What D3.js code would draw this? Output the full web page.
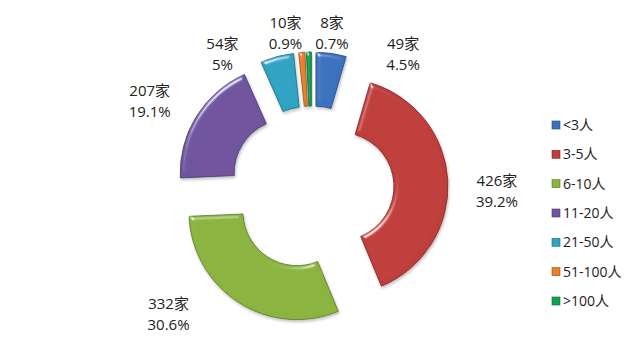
<!DOCTYPE html>
<html>
<head>
<meta charset="utf-8">
<script src="https://cdn.jsdelivr.net/npm/d3@7"></script>
<style>
  html, body { margin: 0; padding: 0; background: #fff; }
  svg { display: block; }
  text { font-family: "Open Sans", "Noto Sans CJK SC", sans-serif; fill: #222; }
</style>
</head>
<body>
<div id="chart"></div>
<script>
//          Chart data
var categories = ["<3人", "3-5人", "6-10人", "11-20人", "21-50人", "51-100人", ">100人"];
var counts = [49, 426, 332, 207, 54, 10, 8];
var percents = ["4.5%", "39.2%", "30.6%", "19.1%", "5%", "0.9%", "0.7%"];
var colors = ["#3a72bd", "#bf3d3a", "#8ab43e", "#70549e", "#2ea3c2", "#e8802a", "#12a052"];

//          Chart settings
var width = 642, height = 353;
var cx = 312, cy = 188;
var innerR = 54, outerR = 108;
var explode = 28;
// label placement, Excel-like: turn from slice middle (deg) and distance from centre
var labelTurn = [26.1, 4.1, 16.2, -3.7, -18.9, -5.4, 8.7];
var labelDist = [162, 185, 191, 184, 161, 157, 156];

var svg = d3.select("#chart").append("svg")
    .attr("width", width)
    .attr("height", height);

//          Bevel filter
var defs = svg.append("defs");
var bevel = defs.append("filter").attr("id", "bevel")
    .attr("x", "-20%").attr("y", "-20%").attr("width", "140%").attr("height", "140%");
bevel.append("feGaussianBlur").attr("in", "SourceAlpha").attr("stdDeviation", 2).attr("result", "blur");
bevel.append("feSpecularLighting").attr("in", "blur").attr("surfaceScale", 3)
    .attr("specularConstant", 0.7).attr("specularExponent", 40)
    .attr("lighting-color", "#ffffff").attr("result", "spec")
    .append("feDistantLight").attr("azimuth", 235).attr("elevation", 35);
bevel.append("feComposite").attr("in", "spec").attr("in2", "SourceAlpha")
    .attr("operator", "in").attr("result", "specIn");
bevel.append("feComposite").attr("in", "SourceGraphic").attr("in2", "specIn")
    .attr("operator", "arithmetic").attr("k1", 0).attr("k2", 1).attr("k3", 1).attr("k4", 0)
    .attr("result", "lit");
bevel.append("feGaussianBlur").attr("in", "SourceAlpha").attr("stdDeviation", 1.5).attr("result", "sh");
bevel.append("feOffset").attr("in", "sh").attr("dx", 1).attr("dy", 2).attr("result", "shOff");
bevel.append("feComponentTransfer").attr("in", "shOff").attr("result", "shFade")
    .append("feFuncA").attr("type", "linear").attr("slope", 0.25);
var merge = bevel.append("feMerge");
merge.append("feMergeNode").attr("in", "shFade");
merge.append("feMergeNode").attr("in", "lit");

var pie = d3.pie().sort(null).value(function(d) { return d; });
var arcs = pie(counts);
var arc = d3.arc().innerRadius(innerR).outerRadius(outerR);

function dir(a) { return [Math.sin(a), -Math.cos(a)]; }

var g = svg.append("g").attr("transform", "translate(" + cx + "," + cy + ")");

//          Slices
g.selectAll("path.slice").data(arcs).enter().append("path")
    .attr("class", "slice")
    .attr("d", arc)
    .attr("transform", function(d) {
        var m = (d.startAngle + d.endAngle) / 2, v = dir(m);
        return "translate(" + (v[0] * explode) + "," + (v[1] * explode) + ")";
    })
    .style("fill", function(d, i) { return colors[i]; })
    .style("stroke", function(d, i) { return d3.color(colors[i]).darker(1.2); })
    .style("stroke-width", 0.8)
    .attr("filter", "url(#bevel)");

//          Data labels
var labels = g.selectAll("g.label").data(arcs).enter().append("g")
    .attr("class", "label")
    .attr("transform", function(d, i) {
        var m = (d.startAngle + d.endAngle) / 2 + labelTurn[i] * Math.PI / 180;
        var v = dir(m);
        return "translate(" + (v[0] * labelDist[i]) + "," + (v[1] * labelDist[i]) + ")";
    });
labels.append("text")
    .attr("text-anchor", "middle")
    .attr("y", -5)
    .style("font-size", "15px")
    .text(function(d, i) { return counts[i] + "家"; });
labels.append("text")
    .attr("text-anchor", "middle")
    .attr("y", 16)
    .style("font-size", "15px")
    .text(function(d, i) { return percents[i]; });

//          Legend
var legendY = d3.scalePoint().domain(categories).range([125, 301]);
var legend = svg.selectAll("g.legend").data(categories).enter().append("g")
    .attr("class", "legend")
    .attr("transform", function(d) { return "translate(552," + legendY(d) + ")"; });
legend.append("rect")
    .attr("x", 0).attr("y", -4)
    .attr("width", 8).attr("height", 8)
    .style("fill", function(d, i) { return colors[i]; })
    .style("stroke", function(d, i) { return d3.color(colors[i]).darker(1.2); })
    .style("stroke-width", 0.6);
legend.append("text")
    .attr("x", 11).attr("y", 5)
    .style("font-size", "14px")
    .text(function(d) { return d; });
</script>
</body>
</html>
